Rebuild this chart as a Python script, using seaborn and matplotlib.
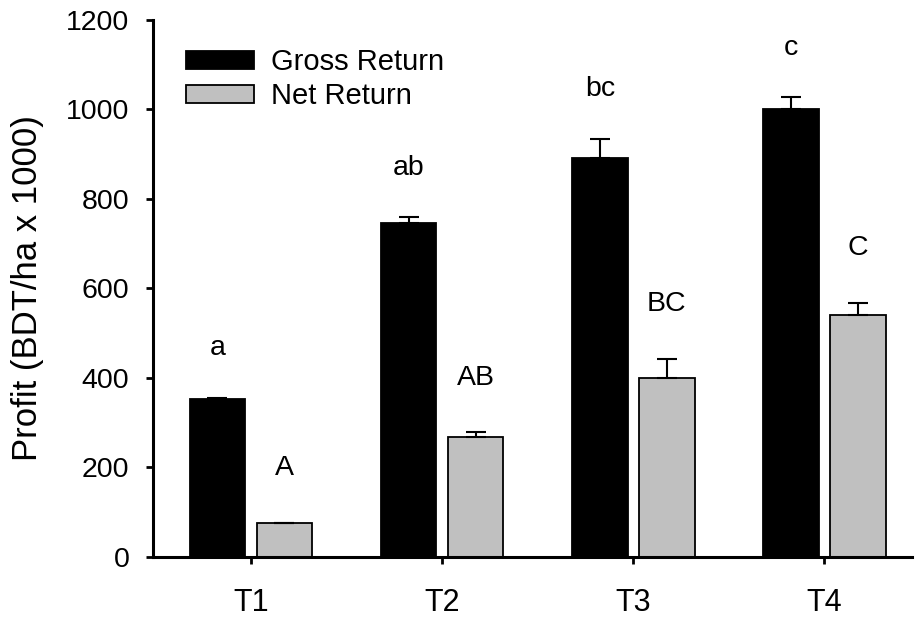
import numpy as np
import pandas as pd
import matplotlib
matplotlib.use("Agg")
import matplotlib.pyplot as plt
import seaborn as sns

# data
treatments = ["T1", "T2", "T3", "T4"]
gross_return = [354, 746, 891, 1000]
gross_se = [2, 13, 44, 27]
net_return = [75, 267, 400, 540]
net_se = [2, 12, 43, 28]
gross_letters = ["a", "ab", "bc", "c"]
net_letters = ["A", "AB", "BC", "C"]

df = pd.DataFrame({
    "Treatment": treatments * 2,
    "Profit": gross_return + net_return,
    "Type": ["Gross Return"] * 4 + ["Net Return"] * 4,
})

sns.set_style("ticks")
plt.rcParams["font.family"] = ["Liberation Sans", "DejaVu Sans"]
plt.rcParams["text.color"] = "black"
plt.rcParams["axes.labelcolor"] = "black"
plt.rcParams["xtick.color"] = "black"
plt.rcParams["ytick.color"] = "black"

fig = plt.figure(figsize=(9.15, 6.19), dpi=100)
ax = fig.add_axes([0.1672, 0.1002, 0.83, 0.8675])

sns.barplot(data=df, x="Treatment", y="Profit", hue="Type",
            palette=["black", "#c0c0c0"], edgecolor="black", linewidth=1.3,
            width=0.7, gap=0.17, errorbar=None, ax=ax)

# error bars (upper only) + significance letters
for cont, se, letters, off in zip(ax.containers, [gross_se, net_se],
                                  [gross_letters, net_letters], [110, 122]):
    xs = [b.get_x() + b.get_width() / 2 for b in cont]
    hs = [b.get_height() for b in cont]
    ax.errorbar(xs, hs, yerr=[np.zeros(len(se)), se], fmt="none",
                ecolor="black", elinewidth=1.5, capsize=7, capthick=1.5, zorder=1)
    for x, h, s, t in zip(xs, hs, se, letters):
        ax.text(x, h + s + off, t, ha="center", va="center", fontsize=20.5)

ax.set_ylim(0, 1200)
ax.set_xlim(-0.512, 3.46)
ax.set_yticks(range(0, 1201, 200))
ax.set_xlabel("")
ax.set_ylabel("Profit (BDT/ha x 1000)", fontsize=25)
ax.yaxis.set_label_coords(-0.1434, 0.5)
ax.tick_params(axis="both", width=2, length=5, color="black")
ax.tick_params(axis="y", labelsize=20.5, pad=12)
ax.tick_params(axis="x", labelsize=22, pad=17)
for s in ["left", "bottom"]:
    ax.spines[s].set_linewidth(2.2)
    ax.spines[s].set_color("black")
sns.despine(ax=ax)

ax.legend(loc="upper left", bbox_to_anchor=(0.044, 0.947), frameon=False,
          fontsize=21, handlelength=2.33, handleheight=0.55,
          handletextpad=0.58, labelspacing=0.2, borderpad=0, borderaxespad=0)

fig.savefig("out.png", dpi=100)
